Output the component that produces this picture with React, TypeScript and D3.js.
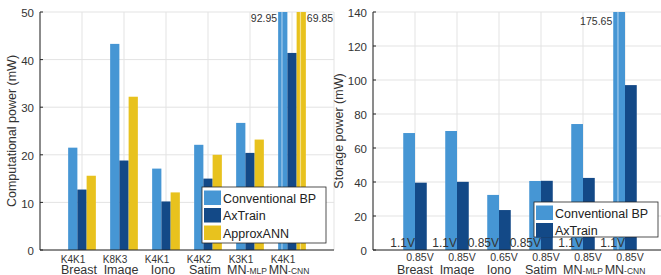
import React from 'react';
import * as d3 from 'd3';

// categories
const datasets = ['Breast', 'Image', 'Iono', 'Satim', 'MN', 'MN'];
const datasetSubs = ['', '', '', '', '-MLP', '-CNN'];
const kernels = ['K4K1', 'K8K3', 'K4K1', 'K4K2', 'K3K1', 'K4K1'];

// computational power (mW)
const compConv = [21.5, 43.3, 17.1, 22.1, 26.7, 92.95];
const compAxTrain = [12.7, 18.8, 10.2, 15.0, 20.4, 41.4];
const compApprox = [15.6, 32.2, 12.1, 20.0, 23.2, 69.85];

// storage power (mW)
const storConv = [68.8, 70.0, 32.4, 40.6, 74.1, 175.65];
const storAxTrain = [39.6, 40.1, 23.5, 40.7, 42.4, 97.0];
const convVolt = ['1.1V', '1.1V', '0.85V', '0.85V', '1.1V', '1.1V'];
const axVolt = ['0.85V', '0.85V', '0.65V', '0.85V', '0.85V', '0.85V'];

const compTicks = [0, 10, 20, 30, 40, 50];
const storTicks = [0, 20, 40, 60, 80, 100, 120, 140];

const C_CONV = '#4696d4';
const C_AX = '#134987';
const C_APPROX = '#e8c21e';
const STRIPE: Record<string, string> = { [C_CONV]: '#a3cbec', [C_APPROX]: '#f4e08a', [C_AX]: '#5a7fb0' };
const TXT = '#333';
const GRID = '#e3e3e3';
const FONT = '"Liberation Sans", Arial, sans-serif';

type Series = { name: string; values: number[]; color: string };

function Panel(props: {
  x0: number; x1: number; yMax: number; ticks: number[]; ylabel: string; ylabelX: number;
  series: Series[]; barW: number; legend: { x: number; y: number; w: number; h: number };
  kind: 'comp' | 'stor';
}) {
  const { x0, x1, yMax, ticks, ylabel, ylabelX, series, barW, legend, kind } = props;
  const x = d3.scaleLinear().domain([0, 7]).range([x0, x1]);
  const y = d3.scaleLinear().domain([0, yMax]).range([250, 12]);
  const n = series.length;
  const bw = x(barW) - x(0);
  const cats = d3.range(1, 7);

  return (
    <g fontFamily={FONT} fill={TXT}>
      {/* grid */}
      {ticks.map(t => (
        <line key={'gy' + t} x1={x0} x2={x1} y1={y(t)} y2={y(t)} stroke={GRID} strokeWidth={1} />
      ))}
      {d3.range(0, 8).map(c => (
        <line key={'gx' + c} x1={x(c)} x2={x(c)} y1={y(0)} y2={y(yMax)} stroke={GRID} strokeWidth={1} />
      ))}
      {/* bars */}
      {series.map((s, si) =>
        s.values.map((v, i) => {
          const cx = x(i + 1) + (si - (n - 1) / 2) * bw;
          const over = v > yMax;
          const top = y(Math.min(v, yMax));
          return (
            <g key={s.name + i}>
              <rect x={cx - bw / 2} y={top} width={bw} height={y(0) - top} fill={s.color} />
              {over && (
                <rect x={cx - bw / 2 + bw * 0.35} y={top} width={1.2} height={y(0) - top} fill={STRIPE[s.color]} />
              )}
            </g>
          );
        })
      )}
      {/* axes */}
      <line x1={x0} x2={x1} y1={y(0)} y2={y(0)} stroke="#262626" strokeWidth={1} />
      <line x1={x0} x2={x0} y1={y(0)} y2={y(yMax)} stroke="#262626" strokeWidth={1} />
      {ticks.map(t => (
        <g key={'t' + t}>
          <line x1={x0} x2={x0 + 3} y1={y(t)} y2={y(t)} stroke="#262626" />
          <text x={x0 - 6} y={y(t)} dy="0.45em" textAnchor="end" fontSize={11.5}>{t}</text>
        </g>
      ))}
      <text transform={`translate(${ylabelX},131) rotate(-90)`} textAnchor="middle" fontSize={12.5}>{ylabel}</text>
      {/* category labels */}
      {cats.map((c, i) => (
        <g key={'c' + c}>
          {kind === 'comp' ? (
            <text x={x(c) - 9} y={262.5} textAnchor="middle" fontSize={10}>{kernels[i]}</text>
          ) : (
            <>
              <text x={x(c)} y={247} textAnchor="end" fontSize={12}>{convVolt[i]}</text>
              <text x={x(c) + 5} y={261} textAnchor="middle" fontSize={10.5}>{axVolt[i]}</text>
            </>
          )}
          <text x={kind === 'comp' ? x(c) - 3 : x(c)} y={273.5} textAnchor="middle" fontSize={12.5}>
            {datasets[i]}
            {datasetSubs[i] && <tspan fontSize={8.5}>{datasetSubs[i]}</tspan>}
          </text>
        </g>
      ))}
      {/* overflow annotations */}
      {series.map((s, si) =>
        s.values.map((v, i) => {
          if (v <= yMax) return null;
          const cx = x(i + 1) + (si - (n - 1) / 2) * bw;
          const left = si === 0;
          return (
            <text key={'a' + s.name + i} x={left ? cx - bw / 2 - 1 : cx + bw / 2 + 1}
              y={kind === 'comp' ? 21.5 : 24.5} textAnchor={left ? 'end' : 'start'} fontSize={10.5}>
              {v.toFixed(2)}
            </text>
          );
        })
      )}
      {/* legend */}
      <rect x={legend.x} y={legend.y} width={legend.w} height={legend.h} fill="#fff" stroke="#262626" strokeWidth={0.8} />
      {series.map((s, si) => (
        <g key={'l' + s.name}>
          <rect x={legend.x + 2} y={legend.y + 3.5 + si * 17.5} width={17} height={14.5} fill={s.color} />
          <text x={legend.x + 21} y={legend.y + 3.5 + si * 17.5 + 12} fontSize={12.5} fill="#222">{s.name}</text>
        </g>
      ))}
    </g>
  );
}

export default function App() {
  const compSeries: Series[] = [
    { name: 'Conventional BP', values: compConv, color: C_CONV },
    { name: 'AxTrain', values: compAxTrain, color: C_AX },
    { name: 'ApproxANN', values: compApprox, color: C_APPROX },
  ];
  const storSeries: Series[] = [
    { name: 'Conventional BP', values: storConv, color: C_CONV },
    { name: 'AxTrain', values: storAxTrain, color: C_AX },
  ];
  return (
    <svg width={661} height={275} style={{ position: 'absolute', left: 0, top: 0, background: '#fff' }}>
      <rect width={661} height={275} fill="#fff" />
      <Panel x0={40} x1={334} yMax={50} ticks={compTicks} ylabel="Computational power (mW)" ylabelX={16}
        series={compSeries} barW={0.22} legend={{ x: 202, y: 187, w: 124, h: 56 }} kind="comp" />
      <Panel x0={373} x1={667} yMax={140} ticks={storTicks} ylabel="Storage power (mW)" ylabelX={343}
        series={storSeries} barW={0.28} legend={{ x: 534, y: 202, w: 124, h: 35 }} kind="stor" />
    </svg>
  );
}
